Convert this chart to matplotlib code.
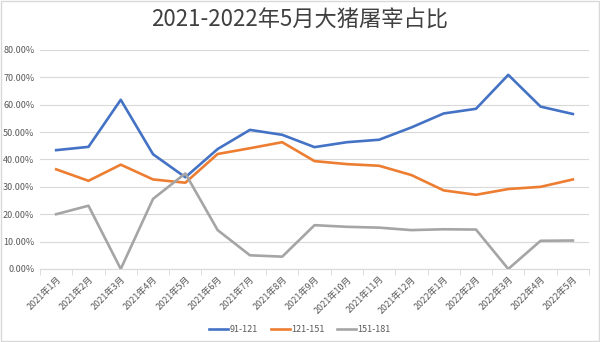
import numpy as np
import matplotlib.pyplot as plt
from matplotlib.ticker import PercentFormatter

plt.rcParams['font.family'] = ['Noto Sans CJK SC', 'DejaVu Sans']

months = ['2021年1月', '2021年2月', '2021年3月', '2021年4月', '2021年5月', '2021年6月',
          '2021年7月', '2021年8月', '2021年9月', '2021年10月', '2021年11月', '2021年12月',
          '2022年1月', '2022年2月', '2022年3月', '2022年4月', '2022年5月']
w91_121 = [43.4, 44.6, 61.8, 41.9, 33.5, 43.8, 50.8, 49.0, 44.5, 46.3, 47.2, 51.7,
           56.8, 58.5, 70.9, 59.3, 56.6]
w121_151 = [36.4, 32.2, 38.1, 32.7, 31.5, 42.0, 44.1, 46.3, 39.4, 38.3, 37.7, 34.3,
            28.7, 27.1, 29.2, 30.0, 32.7]
w151_181 = [20.0, 23.1, 0.0, 25.6, 34.9, 14.2, 5.0, 4.5, 16.0, 15.4, 15.1, 14.2,
            14.5, 14.4, 0.0, 10.3, 10.4]

series = [('91-121', w91_121, '#4472C4'),
          ('121-151', w121_151, '#ED7D31'),
          ('151-181', w151_181, '#A5A5A5')]

fig = plt.figure(figsize=(6, 3.42), dpi=100)
ax = fig.add_axes([0.0667, 0.2135, 0.915, 0.6405])

x = np.arange(len(months))
for name, vals, color in series:
    ax.plot(x, vals, color=color, lw=1.9, label=name, solid_joinstyle='round')

ax.set_xlim(-0.5, len(months) - 0.5)
ax.set_ylim(0, 80)
ax.set_yticks(np.arange(0, 81, 10))
ax.yaxis.set_major_formatter(PercentFormatter(decimals=2))
ax.grid(axis='y', color='#D9D9D9', lw=0.8)
ax.set_axisbelow(True)

ax.set_xticks(x)
ax.set_xticklabels(months, rotation=45, ha='right', rotation_mode='anchor',
                   fontsize=6.5, color='#595959')
ax.set_xticks(np.arange(len(months) + 1) - 0.5, minor=True)
ax.tick_params(axis='x', which='major', length=0, pad=4)
ax.tick_params(axis='x', which='minor', length=4, color='#D9D9D9')
ax.tick_params(axis='y', length=0, labelsize=6.5, labelcolor='#595959', pad=4)

for side in ['top', 'right', 'left']:
    ax.spines[side].set_visible(False)
ax.spines['bottom'].set_color('#D9D9D9')

fig.suptitle('2021-2022年5月大猪屠宰占比', fontsize=16, color='#404040', y=0.975)

fig.legend(loc='lower center', ncol=3, frameon=False, fontsize=6.5,
           bbox_to_anchor=(0.5, 0.0), handlelength=2.1, columnspacing=1.4,
           handletextpad=0.15, labelcolor='#595959')

fig.patches.append(plt.Rectangle((0.002, 0.003), 0.996, 0.994, transform=fig.transFigure,
                                 fill=False, edgecolor='#D9D9D9', lw=1))

fig.savefig('out.png', dpi=100)
